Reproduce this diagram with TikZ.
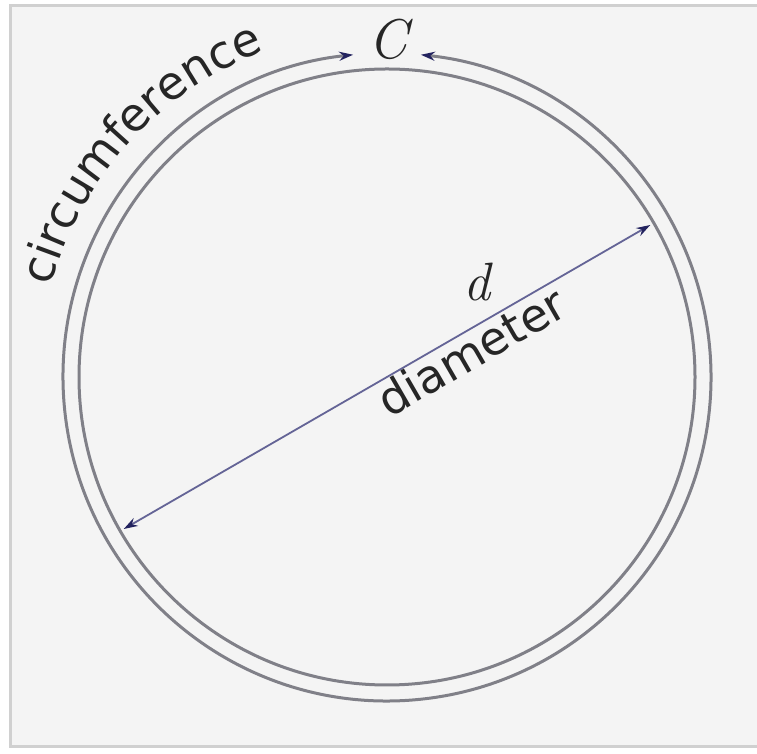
\documentclass[tikz,border=0pt]{standalone}
\usepackage{fontspec}
\newfontfamily\labelsans{DejaVu Sans}
\usetikzlibrary{arrows.meta,decorations.text}

\definecolor{ringgray}{RGB}{128,128,136}
\definecolor{dimblue}{RGB}{100,100,150}
\definecolor{tipnavy}{RGB}{35,35,95}
\definecolor{panel}{RGB}{244,244,244}
\definecolor{paneledge}{RGB}{208,208,208}

\begin{document}
\begin{tikzpicture}[
x=1pt, y=1pt,
ring/.style={draw=ringgray, line width=3pt},
tipboth/.style={{Stealth[length=14pt,width=9pt,color=tipnavy]}-{Stealth[length=14pt,width=9pt,color=tipnavy]}},
dimline/.style={draw=dimblue, line width=1.8pt, tipboth},
sanslab/.style={font=\labelsans\fontsize{46}{46}\selectfont, text=black!85},
mathlab/.style={font=\fontsize{56}{56}\selectfont\itshape, text=black!85, inner sep=1pt}
]
\useasboundingbox (0,0) rectangle (757,754);
\fill[white] (0,0) rectangle (757,754);
\draw[paneledge, fill=panel, line width=3pt] (10,7) rectangle (762,748);

\coordinate (o) at (387,377);
\coordinate (cl) at ([shift={(96:324)}]o);
\coordinate (dl) at ([shift={(210:304)}]o);
\coordinate (dr) at ([shift={(30:304)}]o);

% the two rings
\draw[ring] (o) circle[radius=308];
\draw[ring, tipboth] (cl) arc[start angle=96, end angle=444, radius=324];

\node[mathlab] (clab) at (388,715) {C};
\node[mathlab, font=\fontsize{54}{54}\selectfont\itshape] (dlab) at (477,472) {d};

% diameter
\draw[dimline] (dl) -- (dr)
  node[pos=0.641, sloped, anchor=north, inner sep=1pt, sanslab] (dname) {diameter};

% circumference along the outer ring
\path[decorate, decoration={text along path, text align=left, text color=black!85,
  text={|\labelsans\fontsize{46}{46}\selectfont|circumference}}]
  ([shift={(165:348)}]o) arc[start angle=165, end angle=105, radius=348];
\end{tikzpicture}
\end{document}
